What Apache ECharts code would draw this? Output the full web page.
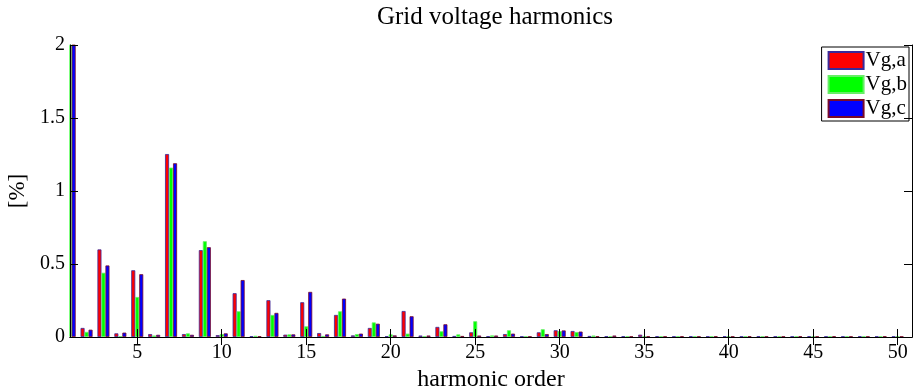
<!DOCTYPE html>
<html>
<head>
<meta charset="utf-8">
<script src="https://cdn.jsdelivr.net/npm/echarts@6/dist/echarts.min.js"></script>
<style>
html,body{margin:0;padding:0;background:#fff;}
#chart{width:914px;height:388px;}
</style>
</head>
<body>
<div id="chart"></div>
<script>
var harmonics = [1,2,3,4,5,6,7,8,9,10,11,12,13,14,15,16,17,18,19,20,21,22,23,24,25,26,27,28,29,30,31,32,33,34,35,36,37,38,39,40,41,42,43,44,45,46,47,48,49,50];
var vga = [100,0.062,0.600,0.025,0.457,0.020,1.253,0.020,0.595,0.013,0.300,0.005,0.252,0.016,0.238,0.027,0.151,0.011,0.062,0.005,0.178,0.010,0.069,0.007,0.032,0.005,0.020,0.004,0.032,0.046,0.041,0.007,0.005,0.005,0.016,0.005,0.004,0.005,0.004,0.005,0.004,0.005,0.004,0.004,0.005,0.004,0.004,0.005,0.004,0.004];
var vgb = [100,0.035,0.440,0.003,0.274,0.010,1.160,0.025,0.656,0.020,0.176,0.008,0.151,0.018,0.073,0.007,0.176,0.020,0.100,0.018,0.023,0.004,0.039,0.018,0.108,0.011,0.046,0.004,0.053,0.040,0.034,0.010,0.004,0.004,0.004,0.004,0.004,0.004,0.004,0.004,0.004,0.004,0.004,0.004,0.004,0.004,0.004,0.004,0.004,0.004];
var vgc = [100,0.050,0.490,0.030,0.430,0.015,1.190,0.015,0.615,0.025,0.390,0.005,0.165,0.018,0.309,0.018,0.263,0.023,0.091,0.011,0.142,0.010,0.087,0.007,0.010,0.010,0.023,0.004,0.020,0.045,0.037,0.005,0.010,0.004,0.005,0.004,0.005,0.004,0.005,0.004,0.005,0.004,0.004,0.005,0.004,0.005,0.004,0.004,0.005,0.004];
var seriesNames = ['Vg,a','Vg,b','Vg,c'];
var xTicks = [5,10,15,20,25,30,35,40,45,50];

var FONT = 'Liberation Serif';
function pairs(vals){ return harmonics.map(function(h,i){ return [h, vals[i]]; }); }

var GRID = {left:70, right:2, top:45, bottom:51};
var chart = echarts.init(document.getElementById('chart'), null, {renderer:'canvas'});
var axisLine = {show:true, lineStyle:{color:'#000', width:1}};
var tickStyle = {color:'#000', width:1};
chart.setOption({
  animation:false,
  backgroundColor:'#fff',
  title:{text:'Grid voltage harmonics', left:491, textAlign:'center', top:1, padding:4,
    textStyle:{fontFamily:FONT, fontSize:25, fontWeight:'normal', color:'#000'}},
  legend:{
    orient:'vertical', right:5, top:47,
    icon:'rect',
    itemWidth:35, itemHeight:17, itemGap:3,
    padding:[3,2,2,6],
    backgroundColor:'#fff', borderColor:'#000', borderWidth:1,
    textStyle:{fontFamily:FONT, fontSize:21, lineHeight:21, color:'#000', padding:[0,0,0,-3]},
    data:seriesNames
  },
  grid:{left:GRID.left, right:GRID.right, top:GRID.top, bottom:GRID.bottom, containLabel:false, outerBoundsMode:'none'},
  // white mask hides the parts of edge bars that ECharts does not clip on a value base axis
  graphic:[{type:'rect', z:5, shape:{x:50, y:30, width:GRID.left-50-0.5, height:320},
    style:{fill:'#fff'}, silent:true}],
  xAxis:[{
    type:'value', min:1.02, max:50.85, position:'bottom', z:10,
    name:'harmonic order', nameLocation:'middle', nameGap:28,
    nameTextStyle:{fontFamily:FONT, fontSize:24, color:'#000'},
    axisLine:axisLine,
    axisTick:{show:true, inside:true, length:8, customValues:xTicks, lineStyle:tickStyle},
    axisLabel:{show:true, customValues:xTicks, fontFamily:FONT, fontSize:20, color:'#000', margin:6},
    splitLine:{show:false}
  },{
    type:'value', min:1.02, max:50.85, position:'top', z:10,
    axisLine:axisLine,
    axisTick:{show:true, inside:true, length:8, customValues:xTicks, lineStyle:tickStyle},
    axisLabel:{show:false},
    splitLine:{show:false}
  }],
  yAxis:[{
    type:'value', min:0, max:2, interval:0.5, position:'left', z:10,
    name:'[%]', nameLocation:'middle', nameGap:35,
    nameTextStyle:{fontFamily:FONT, fontSize:23, color:'#000'},
    axisLine:axisLine,
    axisTick:{show:true, inside:true, length:8, lineStyle:tickStyle},
    axisLabel:{fontFamily:FONT, fontSize:20, color:'#000', margin:5},
    splitLine:{show:false}
  },{
    type:'value', min:0, max:2, interval:0.5, position:'right', z:10,
    axisLine:axisLine,
    axisTick:{show:true, inside:true, length:8, lineStyle:tickStyle},
    axisLabel:{show:false},
    splitLine:{show:false}
  }],
  series:[
    {name:seriesNames[0], type:'bar', xAxisIndex:0, yAxisIndex:0, data:pairs(vga), barWidth:4, barGap:'0%', clip:true,
      itemStyle:{color:'#ff0000', borderColor:'#3a2a9a', borderWidth:0.8}},
    {name:seriesNames[1], type:'bar', xAxisIndex:0, yAxisIndex:0, data:pairs(vgb), barWidth:4, barGap:'0%', clip:true,
      itemStyle:{color:'#00ff00', borderColor:'#66ee66', borderWidth:0.8}},
    {name:seriesNames[2], type:'bar', xAxisIndex:0, yAxisIndex:0, data:pairs(vgc), barWidth:4, barGap:'0%', clip:true,
      itemStyle:{color:'#0000ff', borderColor:'#7a0a2a', borderWidth:0.8}}
  ]
});
</script>
</body>
</html>
